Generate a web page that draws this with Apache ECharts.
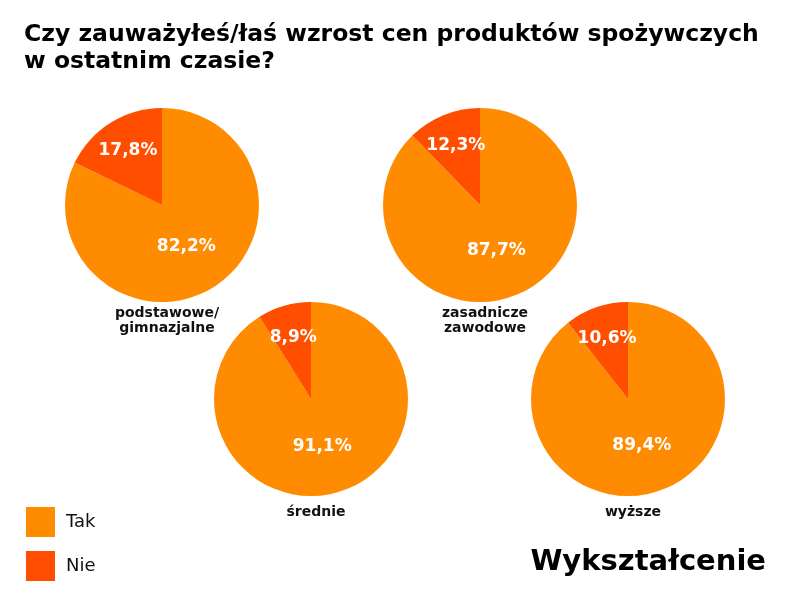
<!DOCTYPE html>
<html>
<head>
<meta charset="utf-8">
<script src="https://cdn.jsdelivr.net/npm/echarts@6/dist/echarts.min.js"></script>
<style>
  html, body { margin: 0; padding: 0; background: #fff; }
  #main { width: 800px; height: 600px; }
</style>
</head>
<body>
<div id="main"></div>
<script>
// dane
var categories = ['podstawowe/\ngimnazjalne', 'zasadnicze\nzawodowe', 'średnie', 'wyższe'];
var takValues = [82.2, 87.7, 91.1, 89.4];
var nieValues = [17.8, 12.3, 8.9, 10.6];
var answers = ['Tak', 'Nie'];

var colors = ['#ff8b00', '#ff4e00'];
var centers = [[162, 205], [480, 205], [311, 399], [628, 399]];
var labelTops = [301, 301, 500, 500];
var radius = 97;
var font = 'DejaVu Sans';

window.onload = function () {
    var myChart = echarts.init(document.getElementById('main'));

    function fmt(v) {
        return v.toFixed(1).replace('.', ',') + '%';
    }

    var series = [];
    var titles = [
        {
            text: 'Czy zauważyłeś/łaś wzrost cen produktów spożywczych\nw ostatnim czasie?',
            left: 19,
            top: 16,
            textStyle: { fontFamily: font, fontSize: 23.5, fontWeight: 'bold', color: '#000', lineHeight: 27 }
        },
        {
            text: 'Wykształcenie',
            right: 29,
            top: 543,
            textStyle: { fontFamily: font, fontSize: 29, fontWeight: 900, color: '#000' }
        }
    ];

    categories.forEach(function (cat, i) {
        // etykieta "Nie" dalej od środka, "Tak" troche blizej
        var a = nieValues[i] / 100 * Math.PI;
        var extra = radius * 0.13;
        var ndx = -Math.sin(a) * extra;
        var ndy = -Math.cos(a) * extra;

        series.push({
            name: cat,
            type: 'pie',
            center: centers[i],
            radius: radius,
            startAngle: 90,
            clockwise: true,
            avoidLabelOverlap: false,
            silent: true,
            label: {
                show: true,
                position: 'inside',
                color: '#fff',
                fontFamily: font,
                fontSize: 17,
                fontWeight: 'bold',
                formatter: function (p) { return fmt(p.value); }
            },
            labelLine: { show: false },
            labelLayout: function (p) {
                if (p.dataIndex === 1) {
                    return { dx: ndx, dy: ndy };
                }
                return { dx: -3, dy: -2 };
            },
            data: [
                { name: answers[0], value: takValues[i], itemStyle: { color: colors[0] } },
                { name: answers[1], value: nieValues[i], itemStyle: { color: colors[1] } }
            ]
        });

        titles.push({
            text: cat,
            left: centers[i][0],
            top: labelTops[i],
            textAlign: 'center',
            textStyle: { fontFamily: font, fontSize: 14, fontWeight: 600, color: '#111', lineHeight: 15, align: 'center' }
        });
    });

    var option = {
        backgroundColor: '#fff',
        animation: false,
        color: colors,
        title: titles,
        legend: {
            orient: 'vertical',
            left: 21,
            top: 502,
            icon: 'rect',
            itemWidth: 29,
            itemHeight: 30,
            itemGap: 14,
            selectedMode: false,
            data: answers,
            textStyle: { fontFamily: font, fontSize: 18, fontWeight: 500, color: '#111', padding: [0, 0, 0, 6] }
        },
        series: series
    };

    myChart.setOption(option);
};
</script>
</body>
</html>
